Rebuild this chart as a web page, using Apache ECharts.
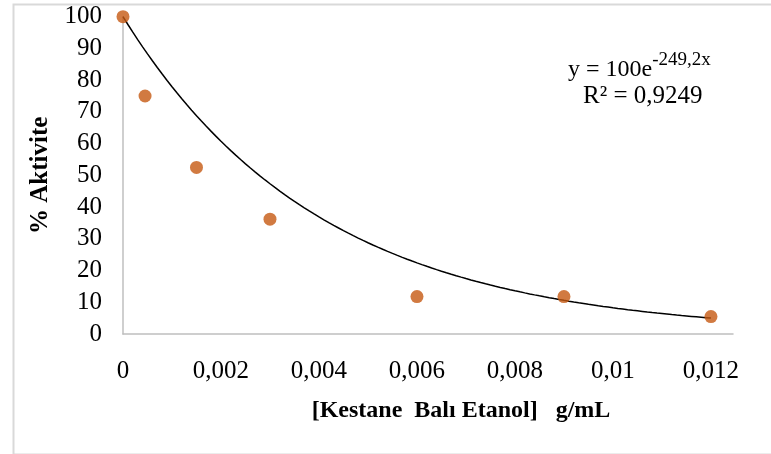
<!DOCTYPE html>
<html>
<head>
<meta charset="utf-8">
<script src="https://cdn.jsdelivr.net/npm/echarts@6/dist/echarts.min.js"></script>
<style>
html,body{margin:0;padding:0;background:#fff;}
#chart{width:771px;height:454px;}
</style>
</head>
<body>
<div id="chart"></div>
<script>
// Concentration (g/mL) and measured activity (%)
const concentrations = [0, 0.00045, 0.0015, 0.003, 0.006, 0.009, 0.012];
const activity = [100, 75, 52.5, 36.2, 11.8, 11.8, 5.5];

// Exponential trendline y = a·e^(b·x)
const trendA = 100;
const trendB = -249.2;
const trendRange = [0, 0.012];

const xTickStep = 0.002;
const yTickStep = 10;

const trendPoints = [];
for (let i = 0; i <= 120; i++) {
  const x = trendRange[0] + (trendRange[1] - trendRange[0]) * i / 120;
  trendPoints.push([x, trendA * Math.exp(trendB * x)]);
}

const font = '"Liberation Serif", "Times New Roman", serif';
const chart = echarts.init(document.getElementById('chart'));
chart.setOption({
  animation: false,
  backgroundColor: '#fff',
  graphic: [
    {
      type: 'rect', left: 11, top: 2,
      shape: { width: 780, height: 450 },
      style: { fill: 'none', stroke: '#d9d9d9', lineWidth: 2 },
      silent: true, z: -1
    },
    {
      type: 'text', left: 568, top: 51,
      style: {
        text: '{b|y = 100e}{s|-249,2x}',
        rich: {
          b: { fontFamily: font, fontSize: 24, fill: '#000', verticalAlign: 'bottom' },
          s: { fontFamily: font, fontSize: 19, fill: '#000', verticalAlign: 'top', padding: [0, 0, 12, 0] }
        }
      }
    },
    {
      type: 'text', left: 583, top: 84,
      style: { text: 'R² = 0,9249', fontFamily: font, fontSize: 25, fill: '#000' }
    }
  ],
  grid: { left: 123, right: 38, top: 16.7, bottom: 120, containLabel: false },
  xAxis: {
    type: 'value',
    min: 0, max: 0.01245, interval: xTickStep,
    name: '[Kestane  Balı Etanol]   g/mL',
    nameLocation: 'middle', nameGap: 65,
    nameTextStyle: { fontFamily: font, fontSize: 24, fontWeight: 'bold', color: '#000', padding: [0, 0, 0, 66] },
    axisLine: { show: true, lineStyle: { color: '#bfbfbf', width: 1.5 } },
    axisTick: { show: false },
    splitLine: { show: false },
    axisLabel: {
      fontFamily: font, fontSize: 25, color: '#000', margin: 25,
      showMaxLabel: false,
      formatter: v => v === 0 ? '0' : String(parseFloat(v.toFixed(4))).replace('.', ',')
    }
  },
  yAxis: {
    type: 'value',
    min: 0, max: 100, interval: yTickStep,
    name: '% Aktivite',
    nameLocation: 'middle', nameGap: 70, nameRotate: 90,
    nameTextStyle: { fontFamily: font, fontSize: 25, fontWeight: 'bold', color: '#000' },
    axisLine: { show: true, lineStyle: { color: '#bfbfbf', width: 1.5 } },
    axisTick: { show: false },
    splitLine: { show: false },
    axisLabel: { fontFamily: font, fontSize: 25, color: '#000', margin: 21 }
  },
  series: [
    {
      type: 'line',
      data: trendPoints,
      showSymbol: false,
      smooth: false,
      lineStyle: { color: '#000', width: 1.5 },
      z: 2
    },
    {
      type: 'scatter',
      data: concentrations.map((x, i) => [x, activity[i]]),
      symbol: 'circle',
      symbolSize: 13,
      itemStyle: { color: '#c65911' },
      z: 3
    }
  ]
});
</script>
</body>
</html>
